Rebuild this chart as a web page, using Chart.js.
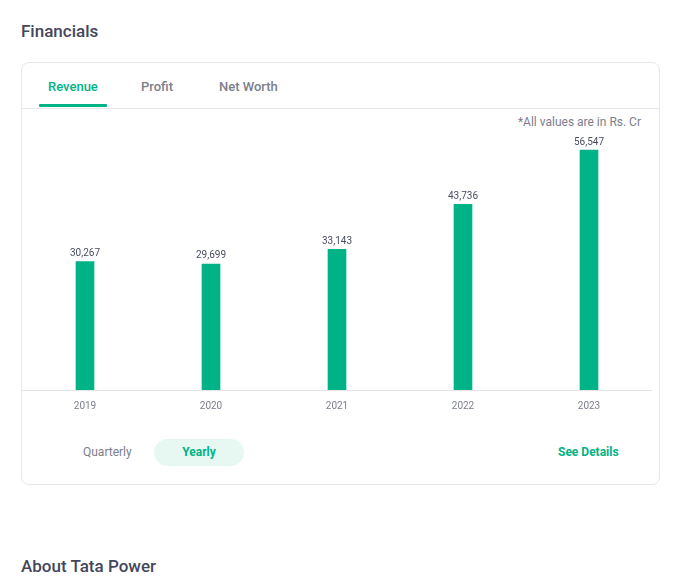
<!DOCTYPE html>
<html>
<head>
<meta charset="utf-8">
<script src="https://cdn.jsdelivr.net/npm/chart.js@4.4.1/dist/chart.umd.min.js"></script>
<style>
  html, body { margin: 0; padding: 0; background: #fff; }
  body { width: 692px; height: 578px; position: relative; overflow: hidden; font-family: Roboto, "Noto Sans", sans-serif; }
  .h { position: absolute; left: 21px; font-size: 17px; font-weight: 500; color: #44475b; }
  .card { position: absolute; left: 21px; top: 62px; width: 637px; height: 421px; border: 1px solid #e6e7ea; border-radius: 8px; box-sizing: content-box; }
  .tabs { position: absolute; left: 0; top: 0; width: 637px; height: 45px; border-bottom: 1px solid #e6e7ea; }
  .tab { position: absolute; top: 16px; font-size: 13px; font-weight: 500; color: #7c7e8c; }
  .tab.active { color: #00b386; }
  .ul { position: absolute; left: 17px; top: 41px; width: 68px; height: 3px; background: #00b386; border-radius: 1px; }
  .note { position: absolute; right: 18px; top: 52px; font-size: 12px; color: #7c7e8c; }
  .chartbox { position: absolute; left: 22px; top: 127px; width: 630px; height: 295px; }
  .q { position: absolute; left: 61px; top: 382px; font-size: 12px; color: #7c7e8c; }
  .pill { position: absolute; left: 132px; top: 376px; width: 90px; height: 27px; border-radius: 14px; background: #e7f7f2; color: #00b386; font-size: 12px; font-weight: 700; text-align: center; line-height: 27px; }
  .sd { position: absolute; left: 536px; top: 382px; font-size: 12px; font-weight: 700; color: #00b386; }
</style>
</head>
<body>
<div class="h" style="top:21px;">Financials</div>
<div class="card">
  <div class="tabs">
    <div class="tab active" style="left:26px;">Revenue</div>
    <div class="tab" style="left:119px;">Profit</div>
    <div class="tab" style="left:197px;">Net Worth</div>
    <div class="ul"></div>
  </div>
  <div class="note">*All values are in Rs. Cr</div>
  <div class="q">Quarterly</div>
  <div class="pill">Yearly</div>
  <div class="sd">See Details</div>
</div>
<div class="chartbox"><canvas id="c"></canvas></div>
<div class="h" style="top:556px;">About Tata Power</div>
<script>
const years = ["2019", "2020", "2021", "2022", "2023"];
const revenue = [30267, 29699, 33143, 43736, 56547];

const valueLabels = {
  id: 'valueLabels',
  afterDatasetsDraw(chart) {
    const ctx = chart.ctx;
    const meta = chart.getDatasetMeta(0);
    ctx.save();
    ctx.font = '10px Roboto, "Noto Sans", sans-serif';
    ctx.fillStyle = '#4a4d60';
    ctx.textAlign = 'center';
    ctx.textBaseline = 'bottom';
    meta.data.forEach((bar, i) => {
      ctx.fillText(revenue[i].toLocaleString('en-US'), bar.x, bar.y - 3);
    });
    ctx.restore();
  }
};

new Chart(document.getElementById('c'), {
  type: 'bar',
  data: {
    labels: years,
    datasets: [{
      data: revenue,
      backgroundColor: '#00b386',
      barThickness: 18,
      borderWidth: 0
    }]
  },
  options: {
    responsive: true,
    maintainAspectRatio: false,
    animation: false,
    layout: { padding: { top: 0, left: 0, right: 0, bottom: 0 } },
    plugins: { legend: { display: false }, tooltip: { enabled: false } },
    scales: {
      x: {
        grid: { display: false, drawTicks: false },
        border: { display: true, color: '#e5e5e5', width: 1 },
        ticks: { color: '#7c7e8c', font: { size: 10, family: 'Roboto, "Noto Sans", sans-serif' }, padding: 10 }
      },
      y: {
        display: false,
        beginAtZero: true,
        max: 61970
      }
    }
  },
  plugins: [valueLabels]
});
</script>
</body>
</html>
